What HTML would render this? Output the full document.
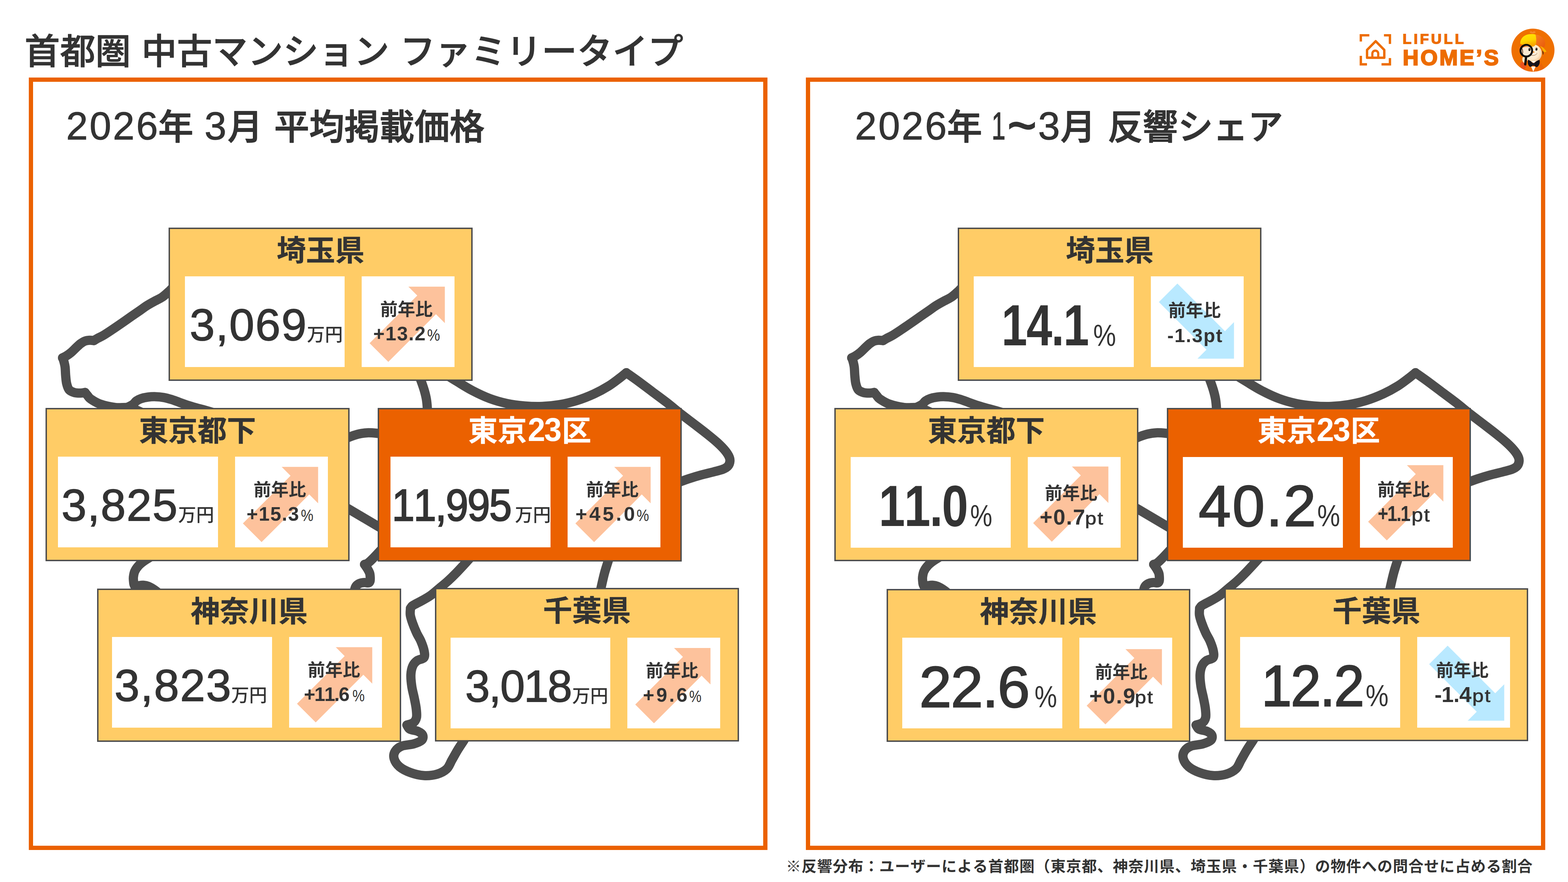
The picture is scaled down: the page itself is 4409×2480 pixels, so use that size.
<!DOCTYPE html>
<html lang="ja">
<head>
<meta charset="utf-8">
<title>首都圏 中古マンション ファミリータイプ</title>
<style>
html,body{margin:0;padding:0;background:#fff}
body{width:4409px;height:2480px;overflow:hidden;font-family:"Liberation Sans",sans-serif;color:#333333}
.page{position:relative;width:4409px;height:2480px;overflow:hidden;background:#fff}
h1,h2,h3,p{margin:0;padding:0;font-weight:normal;font-size:0;line-height:0}
svg{display:block;overflow:visible}
.jp,.arw,.map,.ico{position:absolute}
.jp text{font-family:"Liberation Sans","Noto Sans CJK JP",sans-serif;font-kerning:none}
.t{position:absolute;white-space:nowrap;line-height:1;font-weight:400;transform-origin:0 50%;font-kerning:none}
.t.b{font-weight:700}
.panel{position:absolute;border:12px solid #eb6100;background:transparent}
.card{position:absolute;border:4px solid #4d4d4d;background:#ffcc66}
.card.hot{background:#eb6100}
.cell{position:absolute;background:#fff}
.logo{position:absolute}
</style>
</head>
<body>
<main class="page">
<header>
<h1><svg class="jp " style="left:68.92px;top:92.08px;width:1852.56px;height:115.54px" viewBox="0 0 1852.56 115.54" role="img" aria-label="首都圏 中古マンション ファミリータイプ"><title>首都圏 中古マンション ファミリータイプ</title><text y="87.65" font-size="99.6" font-weight="500" fill="#333333" stroke="#333333" stroke-width="1.3" stroke-linejoin="round"><tspan x="0">首都圏</tspan><tspan x="328.68">中古マンション</tspan><tspan x="1055.76">ファミリータイプ</tspan></text></svg></h1>
<div class="logo" style="left:3800px;top:60px;width:609px;height:180px" role="img" aria-label="LIFULL HOME'S">
<svg class="ico" style="left:0;top:0" width="609" height="180" viewBox="0 0 2576 761" aria-hidden="true">
<g fill="none" stroke="#ed6c00" stroke-width="28" stroke-linejoin="miter" stroke-linecap="butt">
<path d="M112 240V166H213"/><path d="M387 166H458V268"/><path d="M112 410V511H185"/><path d="M358 511H458V437"/>
<path d="M288.500 236L391 340V433H186V340Z" stroke-linejoin="round"/>
<path d="M249 425V383A35 35 0 0 1 319 383V425" stroke-width="26"/>
</g></svg>
<span class="t b lg1" style="left:144.36px;top:29.65px;font-size:39.4px;letter-spacing:6px;transform:scaleX(1.0382);color:#ed6c00;-webkit-text-stroke:1.8px #ed6c00;">LIFULL</span>
<span class="t b lg2" style="left:144.35px;top:71.12px;font-size:62px;letter-spacing:5.04px;color:#ed6c00;-webkit-text-stroke:3px #ed6c00;">HOME’S</span>
<svg class="ico" style="left:430px;top:10px" width="170" height="150" viewBox="0 0 1642 1449" aria-hidden="true">
<defs>
<clipPath id="mc"><circle cx="777" cy="686" r="585"/></clipPath>
<radialGradient id="mf" cx="0.42" cy="0.40" r="0.68"><stop offset="0" stop-color="#fff7ea"/><stop offset="0.65" stop-color="#fde8c9"/><stop offset="1" stop-color="#eebf8b"/></radialGradient>
<linearGradient id="my" x1="0" y1="0" x2="0.3" y2="1"><stop offset="0" stop-color="#ffe800"/><stop offset="0.6" stop-color="#ffd400"/><stop offset="1" stop-color="#f7a600"/></linearGradient>
<linearGradient id="mo" x1="0" y1="0" x2="1" y2="1"><stop offset="0" stop-color="#f58220"/><stop offset="1" stop-color="#ea5a0c"/></linearGradient>
</defs>
<circle cx="777" cy="686" r="585" fill="#ef7000"/>
<g clip-path="url(#mc)">
<path d="M470 1400C520 1180 640 1010 800 1000C960 1010 1080 1110 1150 1260L1150 1400Z" fill="#f06c08"/>
<path d="M960 1000C1040 1080 1090 1180 1110 1300L980 1300Z" fill="#e65f06" opacity=".6"/>
<path d="M428 1075C432 1000 520 985 565 1040L610 1110L535 1215C470 1190 425 1140 428 1075Z" fill="#e9521c"/>
<path d="M725 1130L850 1130L786 1272Z" fill="#fff5e4"/>
<path d="M690 205C690 165 740 160 765 192C790 160 850 165 850 205C830 240 710 240 690 205Z" fill="#f58a2a"/>
<path d="M840 262C960 268 1075 340 1105 470C1115 545 1095 600 1060 612C1000 600 930 560 860 520Z" fill="url(#mo)"/>
<circle cx="772" cy="772" r="246" fill="url(#mf)"/>
<path d="M1035 700C1065 720 1075 780 1050 815C1040 780 1035 740 1035 700Z" fill="#4a2410"/>
<path d="M975 582C1030 585 1085 640 1145 722C1120 745 1085 745 1060 720C1040 665 1010 620 975 582Z" fill="#f7b500"/>
<path d="M432 520C425 400 500 290 640 258C720 245 800 248 845 262C870 340 872 440 860 522C830 575 790 600 740 590C650 560 530 545 432 520Z" fill="url(#my)"/>
<path d="M395 625C400 590 450 570 520 572C580 575 640 590 690 610C640 640 560 655 480 650C430 650 395 645 395 625Z" fill="#f0741e"/>
<ellipse cx="872" cy="660" rx="27" ry="39" fill="#1a0f0a"/><circle cx="864" cy="648" r="9" fill="#fff"/>
<ellipse cx="795" cy="738" rx="23" ry="20" fill="#f58a1f"/>
<path d="M735 822C795 842 850 825 888 775" fill="none" stroke="#6b3410" stroke-width="9" stroke-linecap="round"/>
<ellipse cx="540" cy="950" rx="52" ry="88" fill="#fbe3c2" transform="rotate(-10 540 950)"/>
<circle cx="597" cy="700" r="140" fill="#fbe9d2"/><path d="M470 640C520 590 620 585 700 610C640 570 520 560 462 600Z" fill="#f0741e"/>
<ellipse cx="682" cy="668" rx="28" ry="40" fill="#1a0f0a"/><circle cx="674" cy="655" r="9" fill="#fff"/>
<path d="M478 640C500 700 505 760 490 800" fill="none" stroke="#4a2410" stroke-width="22" stroke-linecap="round" opacity=".85"/>
<circle cx="597" cy="700" r="158" fill="none" stroke="#0c0c0c" stroke-width="52"/>
<path d="M590 880L568 1070" fill="none" stroke="#0c0c0c" stroke-width="62" stroke-linecap="round"/>
<path d="M790 1068C760 1020 700 960 645 950C625 1010 635 1090 690 1135C730 1150 770 1110 790 1068Z" fill="#15121a"/>
<path d="M790 1068C820 1020 890 960 955 950C975 1010 955 1100 890 1145C850 1155 810 1110 790 1068Z" fill="#15121a"/>
<path d="M745 985L850 985L795 1045Z" fill="#fff"/>
<ellipse cx="791" cy="1072" rx="34" ry="40" fill="#1d1922"/>
</g></svg>
</div>
</header>
<section class="panel" style="left:81px;top:218px;width:2053px;height:2148px">
<h2><span class="t " style="left:92.98px;top:69.74px;font-size:109.7px;letter-spacing:4.67px;-webkit-text-stroke:1.4px #333333;">2026</span><svg class="jp " style="left:352.05px;top:74.83px;width:98.6px;height:114.38px" viewBox="0 0 98.6 114.38" role="img" aria-label="年"><title>年</title><text x="0" y="86.77" font-size="98.6" font-weight="500" fill="#333333" stroke="#333333" stroke-width="2" stroke-linejoin="round">年</text></svg><span class="t " style="left:482.48px;top:69.74px;font-size:109.7px;transform:scaleX(1.0094);-webkit-text-stroke:1.4px #333333;">3</span><svg class="jp " style="left:547.29px;top:74.83px;width:98.6px;height:114.38px" viewBox="0 0 98.6 114.38" role="img" aria-label="月"><title>月</title><text x="0" y="86.77" font-size="98.6" font-weight="500" fill="#333333" stroke="#333333" stroke-width="2" stroke-linejoin="round">月</text></svg><svg class="jp " style="left:678.36px;top:74.83px;width:591.6px;height:114.38px" viewBox="0 0 591.6 114.38" role="img" aria-label="平均掲載価格"><title>平均掲載価格</title><text x="0" y="86.77" font-size="98.6" font-weight="500" fill="#333333" stroke="#333333" stroke-width="2" stroke-linejoin="round">平均掲載価格</text></svg></h2>
<svg class="map" style="left:7px;top:550px" width="2020" height="1450" viewBox="100 780 2020 1450" aria-hidden="true"><g fill="none" stroke="#4d4d4d" stroke-width="26" stroke-linecap="round" stroke-linejoin="round"><path d="M500 792C497 795.4 486.27 807.73 482 812.4C477.73 817.07 478.67 816.2 474.4 820C470.13 823.8 463.42 830.48 456.4 835.2C449.38 839.92 439.77 844.12 432.3 848.3C424.83 852.48 417.93 856.27 411.6 860.3C405.27 864.33 401.2 867.72 394.3 872.5C387.4 877.28 378.82 883.02 370.2 889C361.58 894.98 351.82 902.02 342.6 908.4C333.38 914.78 323.53 921.55 314.9 927.3C306.27 933.05 297.7 938.8 290.8 942.9C283.9 947 277.98 949.45 273.5 951.9C269.02 954.35 265.5 956.65 263.9 957.6"/><path d="M263.9 957.6C261.82 957.45 255.55 956.47 251.4 956.7C247.25 956.93 243.13 957.4 239 959C234.87 960.6 230.73 963.23 226.6 966.3C222.47 969.37 218.68 973.25 214.2 977.4C209.72 981.55 204.4 987.27 199.7 991.2C195 995.13 189.97 998.5 186 1001C182.03 1003.5 177.58 1005.33 175.9 1006.2"/><path d="M175.9 1006.2C176.43 1007.55 177.92 1010.05 179.1 1014.3C180.28 1018.55 182.08 1024.8 183 1031.7C183.92 1038.6 183.87 1047.9 184.6 1055.7C185.33 1063.5 185.78 1071.8 187.4 1078.5C189.02 1085.2 190.6 1091.67 194.3 1095.9C198 1100.13 204.15 1102.35 209.6 1103.9C215.05 1105.45 222.1 1105.27 227 1105.2C231.9 1105.13 237 1103.78 239 1103.5"/><path d="M239 1103.5C240.17 1104.92 243.3 1108.92 246 1112C248.7 1115.08 249.32 1117.98 255.2 1122C261.08 1126.02 269.7 1132.12 281.3 1136.1C292.9 1140.08 311.03 1144.17 324.8 1145.9C338.57 1147.63 351.37 1144.15 363.9 1146.5C376.43 1148.85 393.98 1157.75 400 1160"/><path d="M345 1152C347.07 1150.98 352.62 1148.37 357.4 1145.9C362.18 1143.43 369.35 1140.28 373.7 1137.2C378.05 1134.12 379.7 1130.12 383.5 1127.4C387.3 1124.68 391.07 1122.72 396.5 1120.9C401.93 1119.08 409.22 1117.42 416.1 1116.5C422.98 1115.58 430.55 1115.22 437.8 1115.4C445.05 1115.58 452.35 1116.33 459.6 1117.6C466.85 1118.87 474.07 1120.82 481.3 1123C488.53 1125.18 495.38 1127.98 503 1130.7C510.62 1133.42 518.67 1136.58 527 1139.3C535.33 1142.02 543.22 1144.22 553 1147C562.78 1149.78 571.2 1151.83 585.7 1156C600.2 1160.17 630.95 1169.33 640 1172"/><path d="M1174 1045C1175.72 1049.45 1181.1 1062.83 1184.3 1071.7C1187.5 1080.57 1190.75 1089.7 1193.2 1098.2C1195.65 1106.7 1197.62 1114.55 1199 1122.7C1200.38 1130.85 1201 1139.22 1201.5 1147.1C1202 1154.98 1201.92 1166.18 1202 1170"/><path d="M1240 1045C1247.23 1049.45 1268.68 1062.83 1283.4 1071.7C1298.12 1080.57 1312.67 1090.05 1328.3 1098.2C1343.93 1106.35 1360.9 1114.53 1377.2 1120.6C1393.5 1126.67 1409.8 1131.13 1426.1 1134.6C1442.4 1138.07 1458.7 1140.03 1475 1141.4C1491.3 1142.77 1507.6 1143.4 1523.9 1142.8C1540.2 1142.2 1556.5 1140.55 1572.8 1137.8C1589.1 1135.05 1605.38 1131.38 1621.7 1126.3C1638.02 1121.22 1655.75 1114.12 1670.7 1107.3C1685.65 1100.48 1699.18 1092.98 1711.4 1085.4C1723.62 1077.82 1735.72 1068.03 1744 1061.8C1752.28 1055.57 1758.25 1050.3 1761.1 1048"/><path d="M1761.1 1048C1766.4 1051.75 1780.8 1061.65 1792.9 1070.5C1805 1079.35 1820.1 1090.92 1833.7 1101.1C1847.3 1111.28 1860.77 1120.93 1874.5 1131.6C1888.23 1142.27 1902.88 1154.73 1916.1 1165.1C1929.32 1175.47 1941.53 1184.38 1953.8 1193.8C1966.07 1203.22 1979.23 1213.23 1989.7 1221.6C2000.17 1229.97 2008.83 1236.97 2016.6 1244C2024.37 1251.03 2030.92 1257.52 2036.3 1263.8C2041.68 1270.08 2046.2 1276.32 2048.9 1281.7C2051.6 1287.08 2052.8 1291.32 2052.5 1296.1C2052.2 1300.88 2050.4 1306.52 2047.1 1310.4C2043.8 1314.28 2039.28 1316.72 2032.7 1319.4C2026.12 1322.08 2017.77 1323.82 2007.6 1326.5C1997.43 1329.18 1983.65 1332.2 1971.7 1335.5C1959.75 1338.8 1945.17 1343.3 1935.9 1346.3C1926.63 1349.3 1925.42 1349.88 1916.1 1353.5C1906.78 1357.12 1886.02 1365.58 1880 1368"/><path d="M960 1240C963.63 1238.22 973.9 1232.52 981.8 1229.3C989.7 1226.08 998.85 1222.77 1007.4 1220.7C1015.95 1218.63 1023.83 1217.25 1033.1 1216.9C1042.37 1216.55 1053.52 1217.75 1063 1218.6C1072.48 1219.45 1085.5 1221.43 1090 1222"/><path d="M950 1413.5C955.3 1416.58 962.97 1420.92 981.8 1432C1000.63 1443.08 1044.13 1468.92 1063 1480C1081.87 1491.08 1089.67 1495.42 1095 1498.5"/><path d="M1085 1531.7C1082.88 1533.95 1078.63 1538.48 1072.3 1545.2C1065.97 1551.92 1053.3 1565.67 1047 1572C1040.7 1578.33 1038.17 1580.7 1034.5 1583.2C1030.83 1585.7 1026.58 1586.37 1025 1587"/><path d="M1025 1587C1026.38 1589.07 1030.88 1595.27 1033.3 1599.4C1035.72 1603.53 1038.22 1607.67 1039.5 1611.8C1040.78 1615.93 1040.83 1620.47 1041 1624.2C1041.17 1627.93 1041.27 1631.75 1040.5 1634.2C1039.73 1636.65 1039.05 1638.25 1036.4 1638.9C1033.75 1639.55 1028.63 1637.9 1024.6 1638.1C1020.57 1638.3 1015.93 1638.68 1012.2 1640.1C1008.47 1641.52 1004.58 1644.07 1002.2 1646.6C999.82 1649.13 998.83 1652.2 997.9 1655.3C996.97 1658.4 996.92 1661.08 996.6 1665.2C996.28 1669.32 996.1 1677.53 996 1680"/><path d="M430 1562C425.75 1564.63 411.23 1573.03 404.5 1577.8C397.77 1582.57 393.87 1585.83 389.6 1590.6C385.33 1595.37 381.32 1601.02 378.9 1606.4C376.48 1611.78 375.67 1618.22 375.1 1622.9C374.53 1627.58 375.25 1631.18 375.5 1634.5C375.75 1637.82 375.9 1640.32 376.6 1642.8C377.3 1645.28 379.18 1648.3 379.7 1649.4"/><path d="M379.7 1649.4C381.77 1648.92 387.97 1647.12 392.1 1646.5C396.23 1645.88 400.35 1645.35 404.5 1645.7C408.65 1646.05 412.62 1646.87 417 1648.6C421.38 1650.33 425.98 1652.92 430.8 1656.1C435.62 1659.28 441.87 1663.72 445.9 1667.7C449.93 1671.68 453.48 1677.95 455 1680"/><path d="M1340 1549C1335.47 1554 1322.58 1568.38 1312.8 1579C1303.02 1589.62 1290.35 1603.42 1281.3 1612.7C1272.25 1621.98 1266.23 1627.75 1258.5 1634.7C1250.77 1641.65 1242.93 1647.75 1234.9 1654.4C1226.87 1661.05 1218.32 1668.9 1210.3 1674.6C1202.28 1680.3 1193.37 1684.87 1186.8 1688.6C1180.23 1692.33 1175.45 1694.52 1170.9 1697C1166.35 1699.48 1162.28 1701.28 1159.5 1703.5C1156.72 1705.72 1155.08 1709.17 1154.2 1710.3"/><path d="M1154.2 1710.3C1154.12 1713.47 1152.7 1722.33 1153.7 1729.3C1154.7 1736.27 1157.22 1743.65 1160.2 1752.1C1163.18 1760.55 1167.7 1771.52 1171.6 1780C1175.5 1788.48 1180.08 1794.57 1183.6 1803C1187.12 1811.43 1191.32 1822.88 1192.7 1830.6C1194.08 1838.32 1195.15 1844.8 1191.9 1849.3C1188.65 1853.8 1178.38 1853.8 1173.2 1857.6C1168.02 1861.4 1163.77 1865.55 1160.8 1872.1C1157.83 1878.65 1155.88 1887.23 1155.4 1896.9C1154.92 1906.57 1156.3 1919.05 1157.9 1930.1C1159.5 1941.15 1162.93 1952.83 1165 1963.2C1167.07 1973.57 1169.27 1983.32 1170.3 1992.3C1171.33 2001.28 1172.43 2010.55 1171.2 2017.1C1169.97 2023.65 1167.4 2028 1162.9 2031.6C1158.4 2035.2 1147.32 2037.52 1144.2 2038.7"/><path d="M1144.2 2038.7C1145.58 2040.63 1147.32 2047.33 1152.5 2050.3C1157.68 2053.27 1169.28 2053.73 1175.3 2056.5C1181.32 2059.27 1186.87 2062.75 1188.6 2066.9C1190.33 2071.05 1189.98 2077.27 1185.7 2081.4C1181.42 2085.53 1172.23 2088.95 1162.9 2091.7C1153.57 2094.45 1138.33 2094.45 1129.7 2097.9C1121.07 2101.35 1114.68 2106.52 1111.1 2112.4C1107.52 2118.28 1106.13 2125.93 1108.2 2133.2C1110.27 2140.47 1115.77 2149.45 1123.5 2156C1131.23 2162.55 1143.2 2168.37 1154.6 2172.5C1166 2176.63 1179.47 2180.1 1191.9 2180.8C1204.33 2181.5 1218.5 2179.8 1229.2 2176.7C1239.9 2173.6 1249.2 2168.77 1256.1 2162.2C1263 2155.63 1265.42 2146.28 1270.6 2137.3C1275.78 2128.32 1281.32 2117.97 1287.2 2108.3C1293.08 2098.63 1300.1 2088.68 1305.9 2079.3C1311.7 2069.92 1319.32 2056.55 1322 2052"/><path d="M1718 1555C1716.68 1558.78 1713.18 1568.12 1710.1 1577.7C1707.02 1587.28 1702.87 1599.87 1699.5 1612.5C1696.13 1625.13 1692.48 1642.25 1689.9 1653.5C1687.32 1664.75 1684.98 1675.58 1684 1680"/></g></svg>
<article class="card" style="left:381.3px;top:409.6px;width:846.3px;height:423.4px">
<h3><svg class="jp " style="left:299.7px;top:17.38px;width:246.9px;height:95.47px" viewBox="0 0 246.9 95.47" role="img" aria-label="埼玉県"><title>埼玉県</title><text x="0" y="72.42" font-size="82.3" font-weight="700" fill="#333333" stroke="#333333" stroke-width="0.5" stroke-linejoin="round">埼玉県</text></svg></h3>
<div class="cell val" style="left:41.3px;top:133.5px;width:449.6px;height:255.2px">
<span class="t num" style="left:13.56px;top:72.74px;font-size:127px;letter-spacing:2.76px;-webkit-text-stroke:2px #333333;">3,069</span>
<svg class="jp unit" style="left:342.97px;top:136.83px;width:101.2px;height:58.7px" viewBox="0 0 101.2 58.7" role="img" aria-label="万円"><title>万円</title><text x="0" y="44.53" font-size="50.6" font-weight="500" fill="#333333">万円</text></svg>
</div>
<div class="cell yoy" style="left:538.8px;top:133.5px;width:261.2px;height:255.2px">
<svg class="arw" style="left:21.9px;top:28.9px" width="212" height="212" viewBox="0 0 212 212" aria-hidden="true"><polygon points="109.3,0 211.8,0 211.8,102.5 186.85,77.55 52.85,211.55 0.25,158.95 134.25,24.95" fill="#fdc29c"/></svg>
<svg class="jp yl" style="left:51.74px;top:66.76px;width:147.6px;height:57.07px" viewBox="0 0 147.6 57.07" role="img" aria-label="前年比"><title>前年比</title><text x="0" y="43.3" font-size="49.2" font-weight="700" fill="#333333">前年比</text></svg>
<span class="t b dl" style="left:32.49px;top:134.13px;font-size:54.9px;letter-spacing:2.02px;">+13.2</span>
<span class="t dl" style="left:184.24px;top:142.15px;font-size:46.6px;transform:scaleX(0.8790);">%</span>
</div>
</article>
<article class="card" style="left:34.5px;top:916.8px;width:847.5px;height:423.4px">
<h3><svg class="jp " style="left:259.15px;top:17.38px;width:329.2px;height:95.47px" viewBox="0 0 329.2 95.47" role="img" aria-label="東京都下"><title>東京都下</title><text x="0" y="72.42" font-size="82.3" font-weight="700" fill="#333333" stroke="#333333" stroke-width="0.5" stroke-linejoin="round">東京都下</text></svg></h3>
<div class="cell val" style="left:31.8px;top:133.1px;width:449.6px;height:255.2px">
<span class="t num" style="left:9.36px;top:72.74px;font-size:127px;letter-spacing:2.16px;-webkit-text-stroke:2px #333333;">3,825</span>
<svg class="jp unit" style="left:337.47px;top:136.83px;width:101.2px;height:58.7px" viewBox="0 0 101.2 58.7" role="img" aria-label="万円"><title>万円</title><text x="0" y="44.53" font-size="50.6" font-weight="500" fill="#333333">万円</text></svg>
</div>
<div class="cell yoy" style="left:529.3px;top:133.1px;width:261.2px;height:255.2px">
<svg class="arw" style="left:21.2px;top:28.1px" width="213" height="213" viewBox="0 0 213 213" aria-hidden="true"><polygon points="110,0.8 212.5,0.8 212.5,103.3 187.55,78.35 53.55,212.35 0.95,159.75 134.95,25.75" fill="#fdc29c"/></svg>
<svg class="jp yl" style="left:51.74px;top:66.76px;width:147.6px;height:57.07px" viewBox="0 0 147.6 57.07" role="img" aria-label="前年比"><title>前年比</title><text x="0" y="43.3" font-size="49.2" font-weight="700" fill="#333333">前年比</text></svg>
<span class="t b dl" style="left:32.49px;top:134.13px;font-size:54.9px;letter-spacing:2.07px;">+15.3</span>
<span class="t dl" style="left:184.89px;top:142.15px;font-size:46.6px;transform:scaleX(0.8501);">%</span>
</div>
</article>
<article class="card hot" style="left:969px;top:916.8px;width:847px;height:424.2px">
<h3><svg class="jp " style="left:250.92px;top:17.38px;width:164.6px;height:95.47px" viewBox="0 0 164.6 95.47" role="img" aria-label="東京"><title>東京</title><text x="0" y="72.42" font-size="82.3" font-weight="700" fill="#ffffff" stroke="#ffffff" stroke-width="0.5" stroke-linejoin="round">東京</text></svg><span class="t b n23" style="left:417.54px;top:12.04px;font-size:92.1px;letter-spacing:-3px;transform:scaleX(0.9578);color:#ffffff;">23</span><svg class="jp " style="left:513.58px;top:17.38px;width:82.3px;height:95.47px" viewBox="0 0 82.3 95.47" role="img" aria-label="区"><title>区</title><text x="0" y="72.42" font-size="82.3" font-weight="700" fill="#ffffff" stroke="#ffffff" stroke-width="0.5" stroke-linejoin="round">区</text></svg></h3>
<div class="cell val" style="left:32.3px;top:133.1px;width:449.6px;height:255.2px">
<span class="t num" style="left:4.17px;top:72.74px;font-size:127px;letter-spacing:-3px;transform:scaleX(0.9028);-webkit-text-stroke:3.2px #333333;">11,995</span>
<svg class="jp unit" style="left:349.97px;top:136.83px;width:101.2px;height:58.7px" viewBox="0 0 101.2 58.7" role="img" aria-label="万円"><title>万円</title><text x="0" y="44.53" font-size="50.6" font-weight="500" fill="#333333">万円</text></svg>
</div>
<div class="cell yoy" style="left:529.8px;top:133.1px;width:261.2px;height:255.2px">
<svg class="arw" style="left:21.2px;top:28.1px" width="213" height="213" viewBox="0 0 213 213" aria-hidden="true"><polygon points="110,0.8 212.5,0.8 212.5,103.3 187.55,78.35 53.55,212.35 0.95,159.75 134.95,25.75" fill="#fdc29c"/></svg>
<svg class="jp yl" style="left:51.74px;top:66.76px;width:147.6px;height:57.07px" viewBox="0 0 147.6 57.07" role="img" aria-label="前年比"><title>前年比</title><text x="0" y="43.3" font-size="49.2" font-weight="700" fill="#333333">前年比</text></svg>
<span class="t b dl" style="left:22.63px;top:134.13px;font-size:54.9px;letter-spacing:6px;transform:scaleX(1.0268);">+45.0</span>
<span class="t dl" style="left:194.6px;top:142.15px;font-size:46.6px;transform:scaleX(0.8449);">%</span>
</div>
</article>
<article class="card" style="left:180.2px;top:1425px;width:847px;height:423.4px">
<h3><svg class="jp " style="left:258.9px;top:17.38px;width:329.2px;height:95.47px" viewBox="0 0 329.2 95.47" role="img" aria-label="神奈川県"><title>神奈川県</title><text x="0" y="72.42" font-size="82.3" font-weight="700" fill="#333333" stroke="#333333" stroke-width="0.5" stroke-linejoin="round">神奈川県</text></svg></h3>
<div class="cell val" style="left:38.3px;top:131.9px;width:449.6px;height:255.2px">
<span class="t num" style="left:6.36px;top:72.74px;font-size:127px;letter-spacing:2.58px;-webkit-text-stroke:2px #333333;">3,823</span>
<svg class="jp unit" style="left:334.57px;top:136.83px;width:101.2px;height:58.7px" viewBox="0 0 101.2 58.7" role="img" aria-label="万円"><title>万円</title><text x="0" y="44.53" font-size="50.6" font-weight="500" fill="#333333">万円</text></svg>
</div>
<div class="cell yoy" style="left:535.8px;top:131.9px;width:261.2px;height:255.2px">
<svg class="arw" style="left:22px;top:28.1px" width="212" height="213" viewBox="0 0 212 213" aria-hidden="true"><polygon points="109.2,0.8 211.7,0.8 211.7,103.3 186.75,78.35 52.75,212.35 0.15,159.75 134.15,25.75" fill="#fdc29c"/></svg>
<svg class="jp yl" style="left:51.74px;top:66.76px;width:147.6px;height:57.07px" viewBox="0 0 147.6 57.07" role="img" aria-label="前年比"><title>前年比</title><text x="0" y="43.3" font-size="49.2" font-weight="700" fill="#333333">前年比</text></svg>
<span class="t b dl" style="left:41.49px;top:134.13px;font-size:54.9px;letter-spacing:-2.58px;">+11.6</span>
<span class="t dl" style="left:178.42px;top:142.15px;font-size:46.6px;transform:scaleX(0.8317);">%</span>
</div>
</article>
<article class="card" style="left:1130px;top:1423px;width:847.2px;height:424px">
<h3><svg class="jp " style="left:300.15px;top:17.38px;width:246.9px;height:95.47px" viewBox="0 0 246.9 95.47" role="img" aria-label="千葉県"><title>千葉県</title><text x="0" y="72.42" font-size="82.3" font-weight="700" fill="#333333" stroke="#333333" stroke-width="0.5" stroke-linejoin="round">千葉県</text></svg></h3>
<div class="cell val" style="left:39.6px;top:136.2px;width:449.6px;height:255.2px">
<span class="t num" style="left:41.04px;top:72.74px;font-size:127px;letter-spacing:-3px;transform:scaleX(0.9846);-webkit-text-stroke:2px #333333;">3,018</span>
<svg class="jp unit" style="left:342.37px;top:136.83px;width:101.2px;height:58.7px" viewBox="0 0 101.2 58.7" role="img" aria-label="万円"><title>万円</title><text x="0" y="44.53" font-size="50.6" font-weight="500" fill="#333333">万円</text></svg>
</div>
<div class="cell yoy" style="left:537.1px;top:136.2px;width:261.2px;height:255.2px">
<svg class="arw" style="left:21.9px;top:28.8px" width="212" height="212" viewBox="0 0 212 212" aria-hidden="true"><polygon points="109.3,0.1 211.8,0.1 211.8,102.6 186.85,77.65 52.85,211.65 0.25,159.05 134.25,25.05" fill="#fdc29c"/></svg>
<svg class="jp yl" style="left:51.74px;top:66.76px;width:147.6px;height:57.07px" viewBox="0 0 147.6 57.07" role="img" aria-label="前年比"><title>前年比</title><text x="0" y="43.3" font-size="49.2" font-weight="700" fill="#333333">前年比</text></svg>
<span class="t b dl" style="left:43.69px;top:134.13px;font-size:54.9px;letter-spacing:5.54px;">+9.6</span>
<span class="t dl" style="left:173.72px;top:142.15px;font-size:46.6px;transform:scaleX(0.8317);">%</span>
</div>
</article>
</section>
<section class="panel" style="left:2266px;top:218px;width:2055px;height:2148px">
<h2><span class="t " style="left:125.98px;top:69.74px;font-size:109.7px;letter-spacing:4.67px;-webkit-text-stroke:1.4px #333333;">2026</span><svg class="jp " style="left:385.05px;top:74.83px;width:98.6px;height:114.38px" viewBox="0 0 98.6 114.38" role="img" aria-label="年"><title>年</title><text x="0" y="86.77" font-size="98.6" font-weight="500" fill="#333333" stroke="#333333" stroke-width="2" stroke-linejoin="round">年</text></svg><span class="t " style="left:510.29px;top:69.74px;font-size:109.7px;transform:scaleX(0.6470);-webkit-text-stroke:1.4px #333333;">1</span><span class="t " style="left:555.37px;top:47.22px;font-size:150px;transform:scaleX(0.9323);-webkit-text-stroke:3.5px #333333;">~</span><span class="t " style="left:640.6px;top:69.74px;font-size:109.7px;transform:scaleX(1.0056);-webkit-text-stroke:1.4px #333333;">3</span><svg class="jp " style="left:704.09px;top:74.83px;width:98.6px;height:114.38px" viewBox="0 0 98.6 114.38" role="img" aria-label="月"><title>月</title><text x="0" y="86.77" font-size="98.6" font-weight="500" fill="#333333" stroke="#333333" stroke-width="2" stroke-linejoin="round">月</text></svg><svg class="jp " style="left:837.03px;top:74.83px;width:493px;height:114.38px" viewBox="0 0 493 114.38" role="img" aria-label="反響シェア"><title>反響シェア</title><text x="0" y="86.77" font-size="98.6" font-weight="500" fill="#333333" stroke="#333333" stroke-width="2" stroke-linejoin="round">反響シェア</text></svg></h2>
<svg class="map" style="left:40.7px;top:550px" width="2020" height="1450" viewBox="100 780 2020 1450" aria-hidden="true"><g fill="none" stroke="#4d4d4d" stroke-width="26" stroke-linecap="round" stroke-linejoin="round"><path d="M500 792C497 795.4 486.27 807.73 482 812.4C477.73 817.07 478.67 816.2 474.4 820C470.13 823.8 463.42 830.48 456.4 835.2C449.38 839.92 439.77 844.12 432.3 848.3C424.83 852.48 417.93 856.27 411.6 860.3C405.27 864.33 401.2 867.72 394.3 872.5C387.4 877.28 378.82 883.02 370.2 889C361.58 894.98 351.82 902.02 342.6 908.4C333.38 914.78 323.53 921.55 314.9 927.3C306.27 933.05 297.7 938.8 290.8 942.9C283.9 947 277.98 949.45 273.5 951.9C269.02 954.35 265.5 956.65 263.9 957.6"/><path d="M263.9 957.6C261.82 957.45 255.55 956.47 251.4 956.7C247.25 956.93 243.13 957.4 239 959C234.87 960.6 230.73 963.23 226.6 966.3C222.47 969.37 218.68 973.25 214.2 977.4C209.72 981.55 204.4 987.27 199.7 991.2C195 995.13 189.97 998.5 186 1001C182.03 1003.5 177.58 1005.33 175.9 1006.2"/><path d="M175.9 1006.2C176.43 1007.55 177.92 1010.05 179.1 1014.3C180.28 1018.55 182.08 1024.8 183 1031.7C183.92 1038.6 183.87 1047.9 184.6 1055.7C185.33 1063.5 185.78 1071.8 187.4 1078.5C189.02 1085.2 190.6 1091.67 194.3 1095.9C198 1100.13 204.15 1102.35 209.6 1103.9C215.05 1105.45 222.1 1105.27 227 1105.2C231.9 1105.13 237 1103.78 239 1103.5"/><path d="M239 1103.5C240.17 1104.92 243.3 1108.92 246 1112C248.7 1115.08 249.32 1117.98 255.2 1122C261.08 1126.02 269.7 1132.12 281.3 1136.1C292.9 1140.08 311.03 1144.17 324.8 1145.9C338.57 1147.63 351.37 1144.15 363.9 1146.5C376.43 1148.85 393.98 1157.75 400 1160"/><path d="M345 1152C347.07 1150.98 352.62 1148.37 357.4 1145.9C362.18 1143.43 369.35 1140.28 373.7 1137.2C378.05 1134.12 379.7 1130.12 383.5 1127.4C387.3 1124.68 391.07 1122.72 396.5 1120.9C401.93 1119.08 409.22 1117.42 416.1 1116.5C422.98 1115.58 430.55 1115.22 437.8 1115.4C445.05 1115.58 452.35 1116.33 459.6 1117.6C466.85 1118.87 474.07 1120.82 481.3 1123C488.53 1125.18 495.38 1127.98 503 1130.7C510.62 1133.42 518.67 1136.58 527 1139.3C535.33 1142.02 543.22 1144.22 553 1147C562.78 1149.78 571.2 1151.83 585.7 1156C600.2 1160.17 630.95 1169.33 640 1172"/><path d="M1174 1045C1175.72 1049.45 1181.1 1062.83 1184.3 1071.7C1187.5 1080.57 1190.75 1089.7 1193.2 1098.2C1195.65 1106.7 1197.62 1114.55 1199 1122.7C1200.38 1130.85 1201 1139.22 1201.5 1147.1C1202 1154.98 1201.92 1166.18 1202 1170"/><path d="M1240 1045C1247.23 1049.45 1268.68 1062.83 1283.4 1071.7C1298.12 1080.57 1312.67 1090.05 1328.3 1098.2C1343.93 1106.35 1360.9 1114.53 1377.2 1120.6C1393.5 1126.67 1409.8 1131.13 1426.1 1134.6C1442.4 1138.07 1458.7 1140.03 1475 1141.4C1491.3 1142.77 1507.6 1143.4 1523.9 1142.8C1540.2 1142.2 1556.5 1140.55 1572.8 1137.8C1589.1 1135.05 1605.38 1131.38 1621.7 1126.3C1638.02 1121.22 1655.75 1114.12 1670.7 1107.3C1685.65 1100.48 1699.18 1092.98 1711.4 1085.4C1723.62 1077.82 1735.72 1068.03 1744 1061.8C1752.28 1055.57 1758.25 1050.3 1761.1 1048"/><path d="M1761.1 1048C1766.4 1051.75 1780.8 1061.65 1792.9 1070.5C1805 1079.35 1820.1 1090.92 1833.7 1101.1C1847.3 1111.28 1860.77 1120.93 1874.5 1131.6C1888.23 1142.27 1902.88 1154.73 1916.1 1165.1C1929.32 1175.47 1941.53 1184.38 1953.8 1193.8C1966.07 1203.22 1979.23 1213.23 1989.7 1221.6C2000.17 1229.97 2008.83 1236.97 2016.6 1244C2024.37 1251.03 2030.92 1257.52 2036.3 1263.8C2041.68 1270.08 2046.2 1276.32 2048.9 1281.7C2051.6 1287.08 2052.8 1291.32 2052.5 1296.1C2052.2 1300.88 2050.4 1306.52 2047.1 1310.4C2043.8 1314.28 2039.28 1316.72 2032.7 1319.4C2026.12 1322.08 2017.77 1323.82 2007.6 1326.5C1997.43 1329.18 1983.65 1332.2 1971.7 1335.5C1959.75 1338.8 1945.17 1343.3 1935.9 1346.3C1926.63 1349.3 1925.42 1349.88 1916.1 1353.5C1906.78 1357.12 1886.02 1365.58 1880 1368"/><path d="M960 1240C963.63 1238.22 973.9 1232.52 981.8 1229.3C989.7 1226.08 998.85 1222.77 1007.4 1220.7C1015.95 1218.63 1023.83 1217.25 1033.1 1216.9C1042.37 1216.55 1053.52 1217.75 1063 1218.6C1072.48 1219.45 1085.5 1221.43 1090 1222"/><path d="M950 1413.5C955.3 1416.58 962.97 1420.92 981.8 1432C1000.63 1443.08 1044.13 1468.92 1063 1480C1081.87 1491.08 1089.67 1495.42 1095 1498.5"/><path d="M1085 1531.7C1082.88 1533.95 1078.63 1538.48 1072.3 1545.2C1065.97 1551.92 1053.3 1565.67 1047 1572C1040.7 1578.33 1038.17 1580.7 1034.5 1583.2C1030.83 1585.7 1026.58 1586.37 1025 1587"/><path d="M1025 1587C1026.38 1589.07 1030.88 1595.27 1033.3 1599.4C1035.72 1603.53 1038.22 1607.67 1039.5 1611.8C1040.78 1615.93 1040.83 1620.47 1041 1624.2C1041.17 1627.93 1041.27 1631.75 1040.5 1634.2C1039.73 1636.65 1039.05 1638.25 1036.4 1638.9C1033.75 1639.55 1028.63 1637.9 1024.6 1638.1C1020.57 1638.3 1015.93 1638.68 1012.2 1640.1C1008.47 1641.52 1004.58 1644.07 1002.2 1646.6C999.82 1649.13 998.83 1652.2 997.9 1655.3C996.97 1658.4 996.92 1661.08 996.6 1665.2C996.28 1669.32 996.1 1677.53 996 1680"/><path d="M430 1562C425.75 1564.63 411.23 1573.03 404.5 1577.8C397.77 1582.57 393.87 1585.83 389.6 1590.6C385.33 1595.37 381.32 1601.02 378.9 1606.4C376.48 1611.78 375.67 1618.22 375.1 1622.9C374.53 1627.58 375.25 1631.18 375.5 1634.5C375.75 1637.82 375.9 1640.32 376.6 1642.8C377.3 1645.28 379.18 1648.3 379.7 1649.4"/><path d="M379.7 1649.4C381.77 1648.92 387.97 1647.12 392.1 1646.5C396.23 1645.88 400.35 1645.35 404.5 1645.7C408.65 1646.05 412.62 1646.87 417 1648.6C421.38 1650.33 425.98 1652.92 430.8 1656.1C435.62 1659.28 441.87 1663.72 445.9 1667.7C449.93 1671.68 453.48 1677.95 455 1680"/><path d="M1340 1549C1335.47 1554 1322.58 1568.38 1312.8 1579C1303.02 1589.62 1290.35 1603.42 1281.3 1612.7C1272.25 1621.98 1266.23 1627.75 1258.5 1634.7C1250.77 1641.65 1242.93 1647.75 1234.9 1654.4C1226.87 1661.05 1218.32 1668.9 1210.3 1674.6C1202.28 1680.3 1193.37 1684.87 1186.8 1688.6C1180.23 1692.33 1175.45 1694.52 1170.9 1697C1166.35 1699.48 1162.28 1701.28 1159.5 1703.5C1156.72 1705.72 1155.08 1709.17 1154.2 1710.3"/><path d="M1154.2 1710.3C1154.12 1713.47 1152.7 1722.33 1153.7 1729.3C1154.7 1736.27 1157.22 1743.65 1160.2 1752.1C1163.18 1760.55 1167.7 1771.52 1171.6 1780C1175.5 1788.48 1180.08 1794.57 1183.6 1803C1187.12 1811.43 1191.32 1822.88 1192.7 1830.6C1194.08 1838.32 1195.15 1844.8 1191.9 1849.3C1188.65 1853.8 1178.38 1853.8 1173.2 1857.6C1168.02 1861.4 1163.77 1865.55 1160.8 1872.1C1157.83 1878.65 1155.88 1887.23 1155.4 1896.9C1154.92 1906.57 1156.3 1919.05 1157.9 1930.1C1159.5 1941.15 1162.93 1952.83 1165 1963.2C1167.07 1973.57 1169.27 1983.32 1170.3 1992.3C1171.33 2001.28 1172.43 2010.55 1171.2 2017.1C1169.97 2023.65 1167.4 2028 1162.9 2031.6C1158.4 2035.2 1147.32 2037.52 1144.2 2038.7"/><path d="M1144.2 2038.7C1145.58 2040.63 1147.32 2047.33 1152.5 2050.3C1157.68 2053.27 1169.28 2053.73 1175.3 2056.5C1181.32 2059.27 1186.87 2062.75 1188.6 2066.9C1190.33 2071.05 1189.98 2077.27 1185.7 2081.4C1181.42 2085.53 1172.23 2088.95 1162.9 2091.7C1153.57 2094.45 1138.33 2094.45 1129.7 2097.9C1121.07 2101.35 1114.68 2106.52 1111.1 2112.4C1107.52 2118.28 1106.13 2125.93 1108.2 2133.2C1110.27 2140.47 1115.77 2149.45 1123.5 2156C1131.23 2162.55 1143.2 2168.37 1154.6 2172.5C1166 2176.63 1179.47 2180.1 1191.9 2180.8C1204.33 2181.5 1218.5 2179.8 1229.2 2176.7C1239.9 2173.6 1249.2 2168.77 1256.1 2162.2C1263 2155.63 1265.42 2146.28 1270.6 2137.3C1275.78 2128.32 1281.32 2117.97 1287.2 2108.3C1293.08 2098.63 1300.1 2088.68 1305.9 2079.3C1311.7 2069.92 1319.32 2056.55 1322 2052"/><path d="M1718 1555C1716.68 1558.78 1713.18 1568.12 1710.1 1577.7C1707.02 1587.28 1702.87 1599.87 1699.5 1612.5C1696.13 1625.13 1692.48 1642.25 1689.9 1653.5C1687.32 1664.75 1684.98 1675.58 1684 1680"/></g></svg>
<article class="card" style="left:414.9px;top:409.6px;width:846.6px;height:423.4px">
<h3><svg class="jp " style="left:299.85px;top:17.38px;width:246.9px;height:95.47px" viewBox="0 0 246.9 95.47" role="img" aria-label="埼玉県"><title>埼玉県</title><text x="0" y="72.42" font-size="82.3" font-weight="700" fill="#333333" stroke="#333333" stroke-width="0.5" stroke-linejoin="round">埼玉県</text></svg></h3>
<div class="cell val" style="left:41.4px;top:133.5px;width:449.6px;height:255.2px">
<span class="t b num" style="left:77.59px;top:56.34px;font-size:163.8px;letter-spacing:-3px;transform:scaleX(0.7961);">14.1</span>
<span class="t unit" style="left:336.13px;top:124.46px;font-size:84.4px;transform:scaleX(0.8533);">%</span>
</div>
<div class="cell yoy" style="left:538.9px;top:133.5px;width:261.2px;height:255.2px">
<svg class="arw" style="left:22.2px;top:19.9px" width="212" height="212" viewBox="0 0 212 212" aria-hidden="true"><polygon points="211.8,108.8 211.8,211.5 109.1,211.5 134.45,186.15 0.65,52.35 52.65,0.35 186.45,134.15" fill="#b9e9ff"/></svg>
<svg class="jp yl" style="left:48.74px;top:70.36px;width:147.6px;height:57.07px" viewBox="0 0 147.6 57.07" role="img" aria-label="前年比"><title>前年比</title><text x="0" y="43.3" font-size="49.2" font-weight="700" fill="#333333">前年比</text></svg>
<span class="t b dl" style="left:46.51px;top:139.43px;font-size:53.6px;letter-spacing:2.34px;">-1.3pt</span>
</div>
</article>
<article class="card" style="left:68.1px;top:917.1px;width:847.3px;height:423.1px">
<h3><svg class="jp " style="left:259.05px;top:17.38px;width:329.2px;height:95.47px" viewBox="0 0 329.2 95.47" role="img" aria-label="東京都下"><title>東京都下</title><text x="0" y="72.42" font-size="82.3" font-weight="700" fill="#333333" stroke="#333333" stroke-width="0.5" stroke-linejoin="round">東京都下</text></svg></h3>
<div class="cell val" style="left:42.1px;top:133.6px;width:449.6px;height:255.2px">
<span class="t b num" style="left:79.03px;top:56.34px;font-size:163.8px;letter-spacing:-3px;transform:scaleX(0.8112);">11.0</span>
<span class="t unit" style="left:336.01px;top:124.46px;font-size:84.4px;transform:scaleX(0.8286);">%</span>
</div>
<div class="cell yoy" style="left:539.6px;top:133.6px;width:261.2px;height:255.2px">
<svg class="arw" style="left:15.3px;top:26.3px" width="212" height="213" viewBox="0 0 212 213" aria-hidden="true"><polygon points="109.1,0.7 211.6,0.7 211.6,103.2 186.65,78.25 52.65,212.25 0.05,159.65 134.05,25.65" fill="#fdc29c"/></svg>
<svg class="jp yl" style="left:48.64px;top:75.96px;width:147.6px;height:57.07px" viewBox="0 0 147.6 57.07" role="img" aria-label="前年比"><title>前年比</title><text x="0" y="43.3" font-size="49.2" font-weight="700" fill="#333333">前年比</text></svg>
<span class="t b dl" style="left:33.72px;top:138.54px;font-size:61.5px;letter-spacing:2.16px;">+0.7</span>
<span class="t dl" style="left:161.31px;top:148.27px;font-size:50px;letter-spacing:2.5px;transform:scaleX(1.1450);-webkit-text-stroke:1px #333333;">pt</span>
</div>
</article>
<article class="card hot" style="left:1003.4px;top:917.1px;width:846.3px;height:423.1px">
<h3><svg class="jp " style="left:250.22px;top:17.38px;width:164.6px;height:95.47px" viewBox="0 0 164.6 95.47" role="img" aria-label="東京"><title>東京</title><text x="0" y="72.42" font-size="82.3" font-weight="700" fill="#ffffff" stroke="#ffffff" stroke-width="0.5" stroke-linejoin="round">東京</text></svg><span class="t b n23" style="left:416.84px;top:12.04px;font-size:92.1px;letter-spacing:-3px;transform:scaleX(0.9578);color:#ffffff;">23</span><svg class="jp " style="left:512.88px;top:17.38px;width:82.3px;height:95.47px" viewBox="0 0 82.3 95.47" role="img" aria-label="区"><title>区</title><text x="0" y="72.42" font-size="82.3" font-weight="700" fill="#ffffff" stroke="#ffffff" stroke-width="0.5" stroke-linejoin="round">区</text></svg></h3>
<div class="cell val" style="left:41px;top:133.6px;width:449.6px;height:255.2px">
<span class="t num" style="left:43.84px;top:56.34px;font-size:163.8px;letter-spacing:3.86px;-webkit-text-stroke:3px #333333;">40.2</span>
<span class="t unit" style="left:377.43px;top:124.46px;font-size:84.4px;transform:scaleX(0.8547);">%</span>
</div>
<div class="cell yoy" style="left:538.5px;top:133.6px;width:261.2px;height:255.2px">
<svg class="arw" style="left:22.1px;top:23.3px" width="213" height="212" viewBox="0 0 213 212" aria-hidden="true"><polygon points="110,0 212.5,0 212.5,102.5 187.55,77.55 53.55,211.55 0.95,158.95 134.95,24.95" fill="#fdc29c"/></svg>
<svg class="jp yl" style="left:48.94px;top:66.36px;width:147.6px;height:57.07px" viewBox="0 0 147.6 57.07" role="img" aria-label="前年比"><title>前年比</title><text x="0" y="43.3" font-size="49.2" font-weight="700" fill="#333333">前年比</text></svg>
<span class="t b dl" style="left:50.08px;top:129.56px;font-size:61px;letter-spacing:-3px;transform:scaleX(0.8296);">+1.1</span>
<span class="t dl" style="left:144.77px;top:138.03px;font-size:51px;letter-spacing:2.5px;transform:scaleX(1.1360);-webkit-text-stroke:1px #333333;">pt</span>
</div>
</article>
<article class="card" style="left:214.5px;top:1425.7px;width:846.6px;height:422.7px">
<h3><svg class="jp " style="left:258.7px;top:17.38px;width:329.2px;height:95.47px" viewBox="0 0 329.2 95.47" role="img" aria-label="神奈川県"><title>神奈川県</title><text x="0" y="72.42" font-size="82.3" font-weight="700" fill="#333333" stroke="#333333" stroke-width="0.5" stroke-linejoin="round">神奈川県</text></svg></h3>
<div class="cell val" style="left:40.7px;top:133.5px;width:449.6px;height:255.2px">
<span class="t num" style="left:47.46px;top:56.34px;font-size:163.8px;letter-spacing:-2.46px;-webkit-text-stroke:3px #333333;">22.6</span>
<span class="t unit" style="left:372.06px;top:124.46px;font-size:84.4px;transform:scaleX(0.8431);">%</span>
</div>
<div class="cell yoy" style="left:538.2px;top:133.5px;width:261.2px;height:255.2px">
<svg class="arw" style="left:20.3px;top:31.8px" width="213" height="212" viewBox="0 0 213 212" aria-hidden="true"><polygon points="109.7,0.2 212.2,0.2 212.2,102.7 187.25,77.75 53.25,211.75 0.65,159.15 134.65,25.15" fill="#fdc29c"/></svg>
<svg class="jp yl" style="left:44.04px;top:70.36px;width:147.6px;height:57.07px" viewBox="0 0 147.6 57.07" role="img" aria-label="前年比"><title>前年比</title><text x="0" y="43.3" font-size="49.2" font-weight="700" fill="#333333">前年比</text></svg>
<span class="t b dl" style="left:28.32px;top:133.24px;font-size:61.5px;letter-spacing:2.59px;">+0.9</span>
<span class="t dl" style="left:156.61px;top:142.97px;font-size:50px;letter-spacing:2.5px;transform:scaleX(1.1450);-webkit-text-stroke:1px #333333;">pt</span>
</div>
</article>
<article class="card" style="left:1164.9px;top:1423.6px;width:846.2px;height:422.7px">
<h3><svg class="jp " style="left:299.65px;top:17.38px;width:246.9px;height:95.47px" viewBox="0 0 246.9 95.47" role="img" aria-label="千葉県"><title>千葉県</title><text x="0" y="72.42" font-size="82.3" font-weight="700" fill="#333333" stroke="#333333" stroke-width="0.5" stroke-linejoin="round">千葉県</text></svg></h3>
<div class="cell val" style="left:40.3px;top:133.3px;width:449.6px;height:255.2px">
<span class="t num" style="left:59.99px;top:56.34px;font-size:163.8px;letter-spacing:-3px;transform:scaleX(0.9343);-webkit-text-stroke:3.5px #333333;">12.2</span>
<span class="t unit" style="left:353.12px;top:124.46px;font-size:84.4px;transform:scaleX(0.8576);">%</span>
</div>
<div class="cell yoy" style="left:537.8px;top:133.3px;width:261.2px;height:255.2px">
<svg class="arw" style="left:33.3px;top:24.1px" width="212" height="212" viewBox="0 0 212 212" aria-hidden="true"><polygon points="211.7,108.9 211.7,211.6 109,211.6 134.35,186.25 0.55,52.45 52.55,0.45 186.35,134.25" fill="#b9e9ff"/></svg>
<svg class="jp yl" style="left:52.94px;top:68.56px;width:147.6px;height:57.07px" viewBox="0 0 147.6 57.07" role="img" aria-label="前年比"><title>前年比</title><text x="0" y="43.3" font-size="49.2" font-weight="700" fill="#333333">前年比</text></svg>
<span class="t b dl" style="left:48.98px;top:131.42px;font-size:62px;letter-spacing:-0.93px;">-1.4</span>
<span class="t dl" style="left:155.71px;top:141.57px;font-size:50px;letter-spacing:2.5px;transform:scaleX(1.1450);-webkit-text-stroke:1px #333333;">pt</span>
</div>
</article>
</section>
<footer><p><svg class="jp " style="left:2209.56px;top:2414.14px;width:2100.96px;height:49.3px" viewBox="0 0 2100.96 49.3" role="img" aria-label="※反響分布：ユーザーによる首都圏（東京都、神奈川県、埼玉県・千葉県）の物件への問合せに占める割合"><title>※反響分布：ユーザーによる首都圏（東京都、神奈川県、埼玉県・千葉県）の物件への問合せに占める割合</title><text x="0" y="37.4" font-size="42.5" font-weight="700" letter-spacing="1.27" fill="#333333">※反響分布：ユーザーによる首都圏（東京都、神奈川県、埼玉県・千葉県）の物件への問合せに占める割合</text></svg></p></footer>
</main>
</body>
</html>
